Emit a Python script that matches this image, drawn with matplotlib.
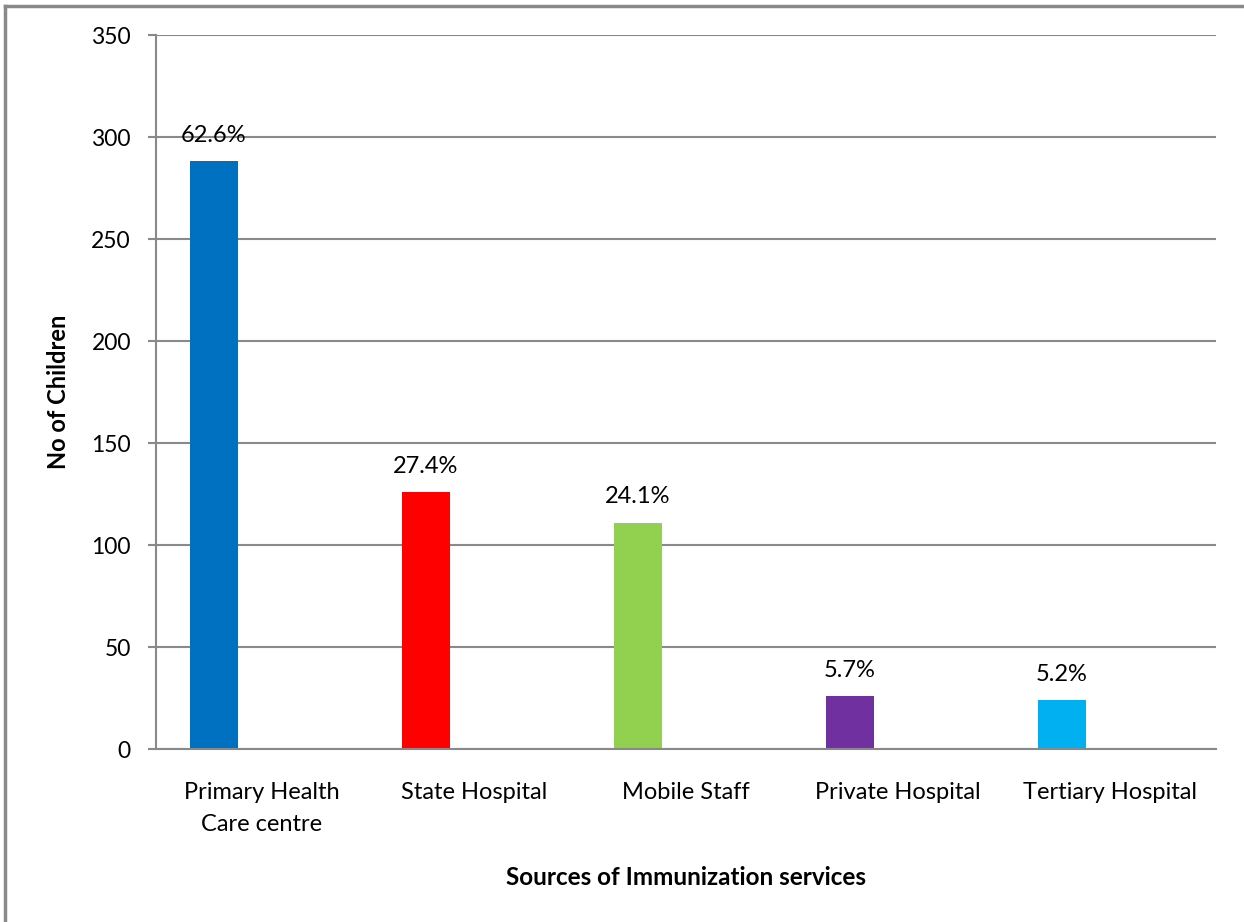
import numpy as np
import matplotlib.pyplot as plt
from matplotlib.lines import Line2D

plt.rcParams["font.family"] = ["Lato", "DejaVu Sans"]

sources = ["Primary Health\nCare centre", "State Hospital", "Mobile Staff",
           "Private Hospital", "Tertiary Hospital"]
children = [288, 126, 111, 26, 24]
percent_labels = ["62.6%", "27.4%", "24.1%", "5.7%", "5.2%"]
bar_colors = ["#0070C0", "#FF0000", "#92D050", "#7030A0", "#00B0F0"]

GRID = "#898989"

fig = plt.figure(figsize=(12.44, 9.22), dpi=100)
ax = fig.add_axes([156 / 1244, 1 - 749 / 922, (1216 - 156) / 1244, (749 - 35) / 922])

# bars sit in the first of three slots per category
width = 0.2264
x = np.arange(len(sources))
bars = ax.bar(x - width, children, width, color=bar_colors, zorder=3)

for rect, label in zip(bars, percent_labels):
    ax.annotate(label, (rect.get_x() + rect.get_width() / 2, rect.get_height()),
                xytext=(0, 11), textcoords="offset points",
                ha="center", va="bottom", fontsize=17)

ax.set_xlim(-0.5, len(sources) - 0.5)
ax.set_ylim(0, 350)
ax.set_yticks(np.arange(0, 351, 50))
ax.set_xticks(x)
ax.set_xticklabels(sources, fontsize=17, linespacing=1.6)
ax.tick_params(axis="x", length=0, pad=24)
ax.tick_params(axis="y", length=6, width=1.5, color=GRID, pad=12, labelsize=16.5)

ax.yaxis.grid(True, color=GRID, linewidth=1.5, zorder=0)
for side in ["top", "right"]:
    ax.spines[side].set_visible(False)
ax.spines["left"].set_color(GRID)
ax.spines["left"].set_linewidth(1.5)
ax.spines["bottom"].set_color(GRID)
ax.spines["bottom"].set_linewidth(1.5)
ax.spines["bottom"].set_zorder(4)

fig.text(58 / 1244, 1 - 392 / 922, "No of Children", rotation=90,
         ha="center", va="center", fontsize=17, fontweight="bold")
fig.text(686 / 1244, 1 - 877 / 922, "Sources of Immunization services",
         ha="center", va="center", fontsize=17.5, fontweight="bold")

# chart frame: only the left and top edges fall inside the image
fx, fy = 5 / 1244, 1 - 6 / 922
fig.add_artist(Line2D([fx, fx], [0, fy], color=GRID, linewidth=2.5))
fig.add_artist(Line2D([fx, 1], [fy, fy], color=GRID, linewidth=2.5))

fig.savefig("out.png", dpi=100, facecolor="white")
